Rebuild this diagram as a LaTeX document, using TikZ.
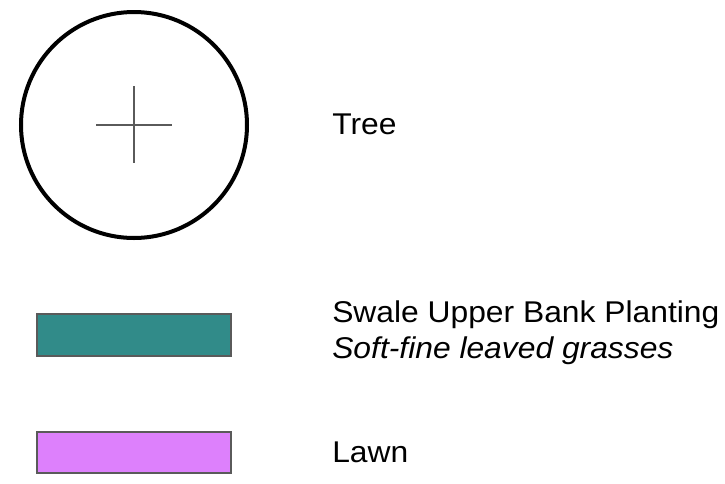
\documentclass[tikz,border=0pt]{standalone}
\usepackage{fontspec}
\setmainfont[FakeStretch=1.06]{Liberation Sans}
\usetikzlibrary{calc,positioning}

\definecolor{swaleteal}{RGB}{49,139,137}
\definecolor{lawnpink}{RGB}{221,128,252}
\definecolor{edgegray}{RGB}{90,90,90}

\begin{document}
\begin{tikzpicture}[
    x=0.75pt, y=-0.75pt,
    legendtext/.style={anchor=base west, inner sep=0pt, font=\fontsize{22.5}{27}\selectfont},
    swatch/.style={draw=edgegray, line width=0.8pt},
  ]
  \useasboundingbox (0,0) rectangle (725,483);

  % Tree symbol
  \coordinate (treeC) at (134,125);
  \draw[line width=3pt] (treeC) circle (113);
  \draw[edgegray, line width=1.1pt] ($(treeC)+(-38,0)$) -- ($(treeC)+(38,0)$)
    ($(treeC)+(0,-39)$) -- ($(treeC)+(0,38)$);

  % Swatches
  \draw[swatch, fill=swaleteal] (37,314) rectangle (231,356);
  \draw[swatch, fill=lawnpink] (37,432) rectangle (231,473);

  % Labels
  \node[legendtext] (treelbl) at (332,134.5) {Tree};
  \node[legendtext] (swalelbl) at (332,322.5) {Swale Upper Bank Planting};
  \node[legendtext, font=\fontsize{22.5}{27}\selectfont\itshape] (swalesub) at (332,358.5)
    {Soft-fine leaved grasses};
  \node[legendtext] (lawnlbl) at (332,462.5) {Lawn};
\end{tikzpicture}
\end{document}
